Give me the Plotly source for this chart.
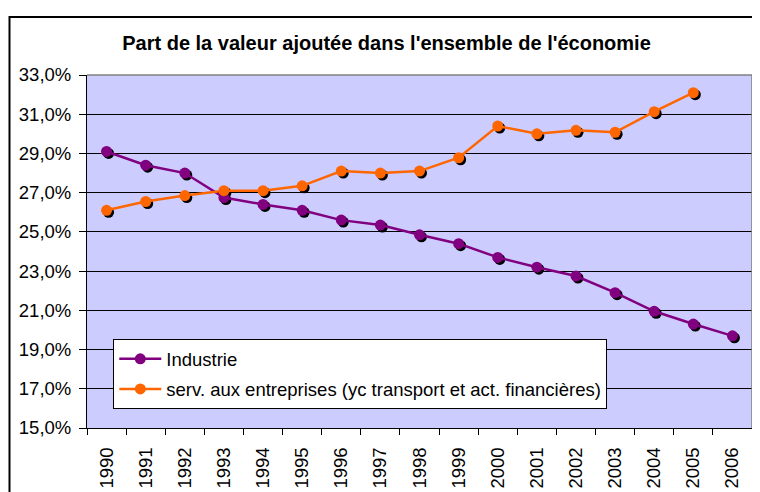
import plotly.graph_objects as go

years = [str(y) for y in range(1990, 2007)]
industrie = [29.1, 28.4, 28.0, 26.75, 26.4, 26.1, 25.6, 25.35, 24.85, 24.4,
             23.7, 23.2, 22.75, 21.9, 20.95, 20.3, 19.7]
services = [26.1, 26.55, 26.85, 27.1, 27.1, 27.35, 28.1, 28.0, 28.1, 28.78,
            30.4, 30.0, 30.18, 30.08, 31.13, 32.1, None]
y_ticks = [15, 17, 19, 21, 23, 25, 27, 29, 31, 33]

title_text = "Part de la valeur ajoutée dans l'ensemble de l'économie"
name_ind = "Industrie"
name_srv = "serv. aux entreprises (yc transport et act. financières)"

OFF = 8  # page body margin
W, H = 760 - OFF, 492 - OFF
ML, MR, MT, MB = 87 - OFF, 6, 75 - OFF, 62
SH = 2.0  # shadow offset px
PW = W - ML - MR
PH = H - MT - MB
dx = SH / PW
dy = SH / PH

FONT = "Liberation Sans, Arial, sans-serif"
PURPLE = "#800080"
ORANGE = "#FF6600"

fig = go.Figure()

# main axes carrier (invisible trace)
fig.add_trace(go.Scatter(x=years, y=industrie, mode="markers", marker=dict(opacity=0),
                         showlegend=False, hoverinfo="skip", xaxis="x", yaxis="y"))
# shadows
for vals in (industrie, services):
    fig.add_trace(go.Scatter(x=years, y=vals, mode="markers",
                             marker=dict(color="black", size=11),
                             showlegend=False, hoverinfo="skip",
                             xaxis="x2", yaxis="y2"))
# main series
fig.add_trace(go.Scatter(x=years, y=industrie, mode="lines+markers", name=name_ind,
                         line=dict(color=PURPLE, width=2.5),
                         marker=dict(color=PURPLE, size=11),
                         legendgroup="a", xaxis="x3", yaxis="y3"))
fig.add_trace(go.Scatter(x=years, y=services, mode="lines+markers", name=name_srv,
                         line=dict(color=ORANGE, width=2.5),
                         marker=dict(color=ORANGE, size=11),
                         legendgroup="b", xaxis="x3", yaxis="y3"))

xr = [-0.5, len(years) - 0.5]
yr = [y_ticks[0], y_ticks[-1]]
main_xd = [0, 1 - dx]
main_yd = [dy, 1]
hidden = dict(visible=False, showgrid=False, zeroline=False, fixedrange=True)

fig.update_layout(
    width=W, height=H,
    margin=dict(l=ML, r=MR, t=MT, b=MB, autoexpand=False),
    paper_bgcolor="white",
    plot_bgcolor="rgba(0,0,0,0)",
    font=dict(family=FONT, size=18.5, color="black"),
    title=dict(text="<b>" + title_text + "</b>", font=dict(size=20, family=FONT),
               x=(386.5 - 87) / PW, xref="paper", xanchor="center",
               y=1 - (43 - OFF) / H, yref="container", yanchor="middle"),
    xaxis=dict(type="category", categoryorder="array", categoryarray=years,
               range=xr, domain=main_xd, anchor="y",
               tickson="boundaries", ticks="outside", ticklen=6, tickcolor="black",
               tickwidth=1, showline=True, linecolor="black", linewidth=1,
               showgrid=False, tickangle=-90, tickfont=dict(size=18.5),
               ticklabelstandoff=11, automargin=False),
    yaxis=dict(range=yr, domain=main_yd, anchor="x", tickvals=y_ticks,
               ticktext=[f"{v:.1f}".replace(".", ",") + "%" for v in y_ticks],
               ticks="outside", ticklen=7, tickcolor="black", tickwidth=1,
               showline=True, linecolor="black", linewidth=1,
               showgrid=True, gridcolor="black", gridwidth=1, zeroline=False,
               tickfont=dict(size=18.5), ticklabelstandoff=4, automargin=False),
    xaxis2=dict(type="category", categoryorder="array", categoryarray=years,
                range=xr, domain=[dx, 1], anchor="y2", **hidden),
    yaxis2=dict(range=yr, domain=[0, 1 - dy], anchor="x2", **hidden),
    xaxis3=dict(type="category", categoryorder="array", categoryarray=years,
                range=xr, domain=main_xd, anchor="y3", **hidden),
    yaxis3=dict(range=yr, domain=main_yd, anchor="x3", **hidden),
    legend=dict(x=(113.3 - 87) / PW, y=(430 - 339.3) / PH, xanchor="left", yanchor="top",
                bgcolor="white", bordercolor="black", borderwidth=1,
                font=dict(size=18.5, family=FONT), tracegroupgap=3,
                traceorder="grouped", itemwidth=42),
    showlegend=True,
)

shapes = [
    # plot background
    dict(type="rect", xref="x domain", yref="y domain", x0=0, x1=1, y0=0, y1=1,
         fillcolor="#CCCCFF", line=dict(width=0), layer="below"),
    # grey top and right border
    dict(type="line", xref="x domain", yref="y domain", x0=0, x1=1, y0=1, y1=1,
         line=dict(color="#808080", width=1.5), layer="above"),
    dict(type="line", xref="x domain", yref="y domain", x0=1, x1=1, y0=0, y1=1,
         line=dict(color="#808080", width=1.5), layer="above"),
    # outer chart border
    dict(type="rect", xref="paper", yref="paper",
         x0=(OFF + 1.5 - 87) / PW, x1=(756 - 87) / PW,
         y0=(430 - 520) / PH, y1=(430 - 17) / PH,
         line=dict(color="black", width=2), fillcolor="rgba(0,0,0,0)", layer="above"),
]
fig.update_layout(shapes=shapes)

fig.write_html("out.html")
